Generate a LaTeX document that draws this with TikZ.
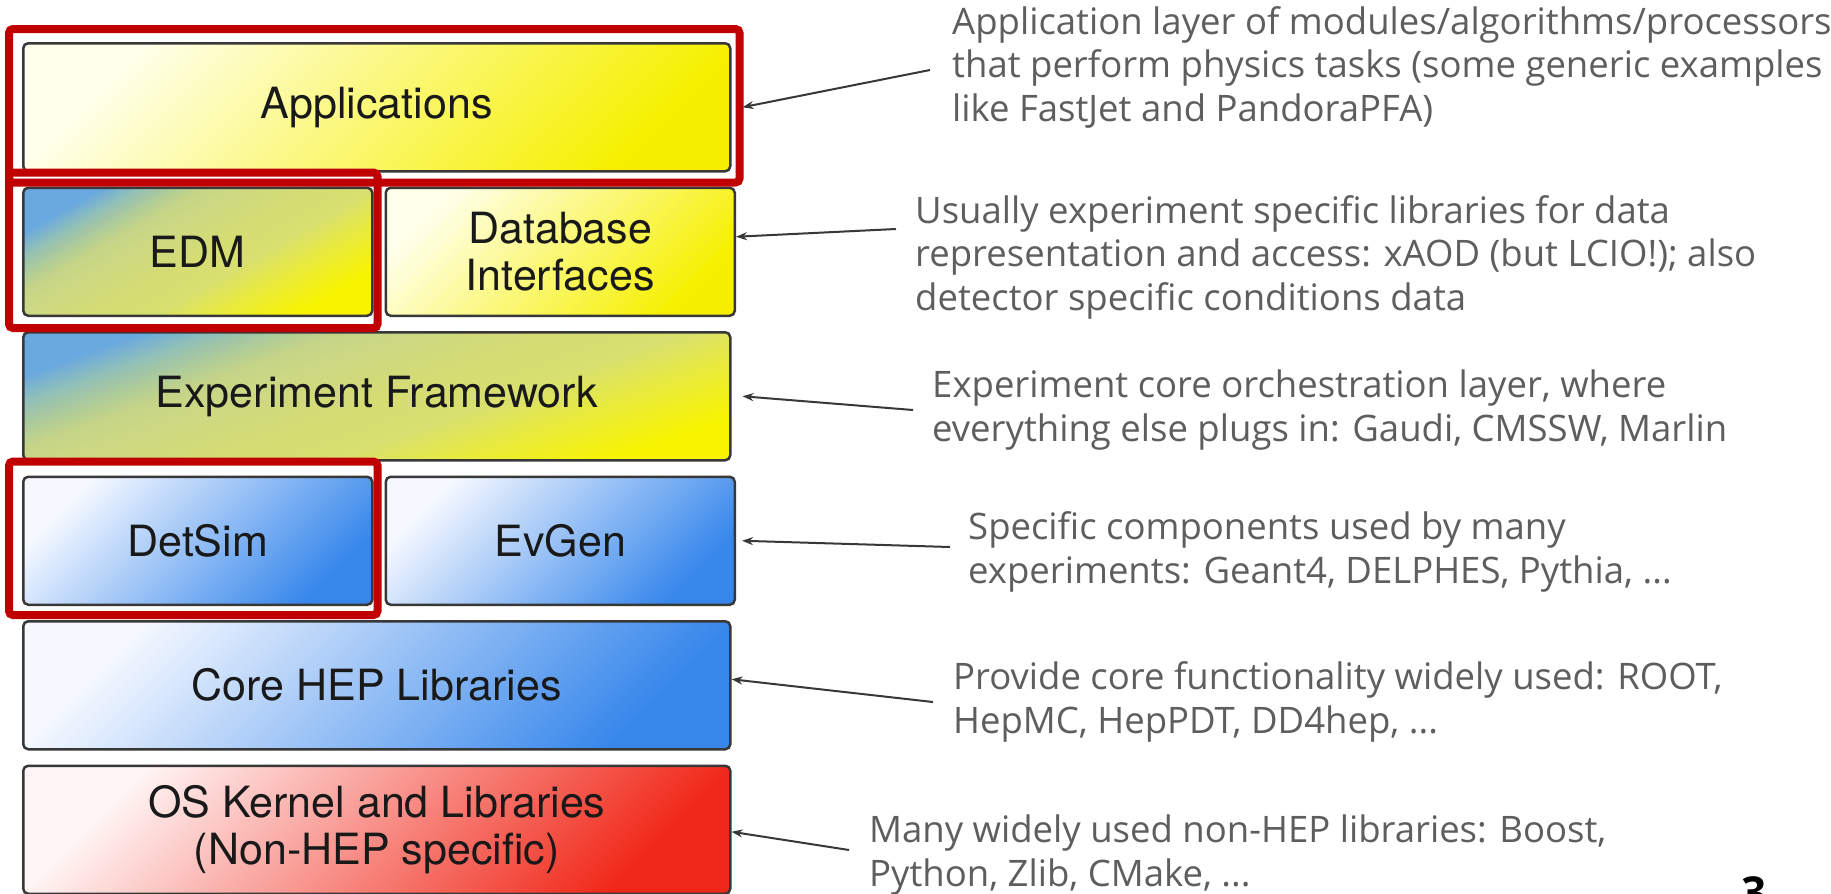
\documentclass[tikz,border=0pt]{standalone}
\usepackage{fontspec}
\setmainfont{Open Sans}
\newfontfamily\boxfont{TeX Gyre Heros}
\usepackage{xcolor}
\usepackage{tikz}
\usetikzlibrary{positioning}
\usetikzlibrary{arrows.meta}

\definecolor{boxline}{HTML}{383838}
\definecolor{notegray}{HTML}{5E5E5E}
\definecolor{hired}{HTML}{C00000}

% blue corner fading into yellow (EDM, framework)
\pgfdeclareverticalshading{edmshade}{100bp}{%
  color(0bp)=(rgb,255:red,248;green,244;blue,0);
  color(25bp)=(rgb,255:red,248;green,244;blue,0);
  color(35bp)=(rgb,255:red,232;green,234;blue,64);
  color(42bp)=(rgb,255:red,216;green,224;blue,112);
  color(50bp)=(rgb,255:red,212;green,220;blue,116);
  color(59bp)=(rgb,255:red,204;green,216;blue,132);
  color(63bp)=(rgb,255:red,196;green,212;blue,136);
  color(66bp)=(rgb,255:red,176;green,204;blue,152);
  color(68.5bp)=(rgb,255:red,160;green,196;blue,168);
  color(70.5bp)=(rgb,255:red,144;green,192;blue,184);
  color(75bp)=(rgb,255:red,106;green,168;blue,224);
  color(100bp)=(rgb,255:red,106;green,168;blue,224)}

\tikzset{
  layer/.style={draw=boxline,line width=2.5pt,rounded corners=5pt,
    minimum height=128pt,inner sep=0pt,align=center,
    font=\boxfont\fontsize{43}{47}\selectfont,text=black!90},
  wide/.style={minimum width=707pt},
  half/.style={minimum width=349pt},
  yellowbox/.style={top color=yellow!8,bottom color={rgb,255:red,246;green,240;blue,0},shading angle=45},
  greenbox/.style={shading=edmshade,shading angle=#1},
  bluebox/.style={top color={rgb,255:red,245;green,248;blue,255},bottom color={rgb,255:red,55;green,135;blue,235},shading angle=45},
  redbox/.style={top color={rgb,255:red,255;green,245;blue,245},bottom color={rgb,255:red,240;green,40;blue,25},shading angle=45},
  hilite/.style={draw=hired,line width=8pt,rounded corners=4pt},
  note/.style={anchor=west,align=left,inner sep=0pt,text=notegray,
    font=\fontsize{36.5}{43.5}\selectfont},
  pointer/.style={draw=boxline,line width=2pt}
}

\begin{document}
\begin{tikzpicture}[x=1pt,y=-1pt,>={Stealth[length=11pt,width=8pt]}]
  \path[use as bounding box,fill=white] (0,0) rectangle (1831,894);

  % the layers
  \node[layer,yellowbox,wide,anchor=north west] (app) at (22,42) {Applications};
  \node[layer,greenbox=30,half,below right=14pt and 0pt of app.south west] (edm) {EDM};
  \node[layer,yellowbox,half,right=11pt of edm] (db) {Database\\Interfaces};
  \node[layer,greenbox=20,wide,below right=14pt and 0pt of edm.south west] (fw) {Experiment Framework};
  \node[layer,bluebox,half,below right=14pt and 0pt of fw.south west] (det) {DetSim};
  \node[layer,bluebox,half,right=11pt of det] (evg) {EvGen};
  \node[layer,bluebox,wide,below right=14pt and 0pt of det.south west] (hep) {Core HEP Libraries};
  \node[layer,redbox,wide,below right=14pt and 0pt of hep.south west] (os) {OS Kernel and Libraries\\(Non-HEP specific)};

  % red frames
  \draw[hilite] ([shift={(-13pt,14pt)}]edm.north west) rectangle ([shift={(4pt,-11pt)}]edm.south east);
  \draw[hilite] ([shift={(-13pt,13pt)}]app.north west) rectangle ([shift={(8pt,-10pt)}]app.south east);
  \draw[hilite] ([shift={(-13pt,14pt)}]det.north west) rectangle ([shift={(4pt,-9pt)}]det.south east);

  % notes on the right
  \node[note] (appnote) at (952,67) {Application layer of modules/algorithms/processors\\that perform physics tasks (some generic examples\\like FastJet and PandoraPFA)};
  \node[note] (dbnote) at (915,257) {Usually experiment specific libraries for data\\representation and access: xAOD (but LCIO!); also\\detector specific conditions data};
  \node[note] (fwnote) at (932,410) {Experiment core orchestration layer, where\\everything else plugs in: Gaudi, CMSSW, Marlin};
  \node[note] (evgnote) at (968,552) {Specific components used by many\\experiments: Geant4, DELPHES, Pythia, ...};
  \node[note] (hepnote) at (953,702) {Provide core functionality widely used: ROOT,\\HepMC, HepPDT, DD4hep, ...};
  \node[note] (osnote) at (869,855) {Many widely used non-HEP libraries: Boost,\\Python, Zlib, CMake, ...};
  \node[anchor=north west,inner sep=0pt,font=\bfseries\fontsize{44}{44}\selectfont] (pagenum) at (1741,876) {3};

  \draw[pointer,->] ([shift={(-22pt,-3pt)}]appnote.west) -- ([xshift=11pt]app.east);
  \draw[pointer,->] ([shift={(-19pt,28pt)}]dbnote.west) -- ([yshift=15pt]db.east);
  \draw[pointer,->] ([xshift=-19pt]fwnote.west) -- ([xshift=11pt]fw.east);
  \draw[pointer,->] ([shift={(-18pt,5pt)}]evgnote.west) -- ([xshift=6pt]evg.east);
  \draw[pointer,->] ([xshift=-20pt]hepnote.west) -- ([yshift=6pt]hep.east);
  \draw[pointer,->] ([shift={(-20pt,5pt)}]osnote.west) -- ([yshift=-2pt]os.east);
\end{tikzpicture}
\end{document}
